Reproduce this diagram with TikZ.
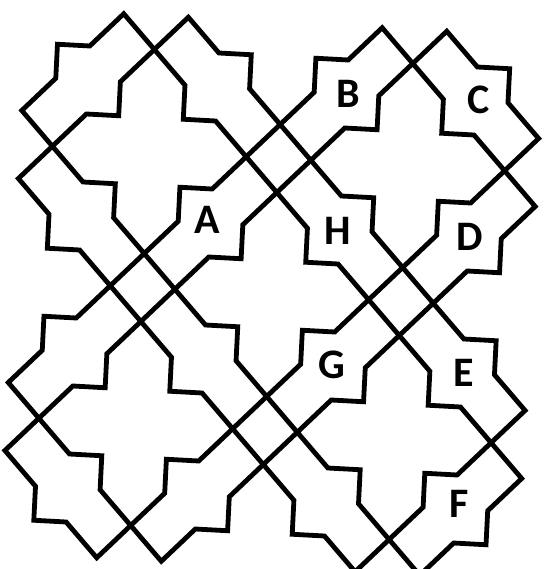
\documentclass[tikz,border=0pt]{standalone}
\usepackage{fontspec}
\setmainfont{Carlito}
\begin{document}
\begin{tikzpicture}[x={(32.3pt,-1.75pt)},y={(1.69pt,34pt)},line width=4.8pt,
  lbl/.style={font=\bfseries\fontsize{42}{42}\selectfont}]
  \useasboundingbox (-149.3pt,151.5pt) rectangle ++(544pt,-569pt);
  \coordinate (TL) at (0,0);
  \coordinate (TR) at (8,0);
  \coordinate (BL) at (0,-8);
  \coordinate (BR) at (8,-8);
  \foreach \c in {TL,TR,BL,BR}{
    \begin{scope}[shift={(\c)}]
      % star outline
      \draw (0,3) -- (1,4) -- (2,3) -- (3,3) -- (3,2) -- (4,1) -- (3,0) -- (4,-1)
        -- (3,-2) -- (3,-3) -- (2,-3) -- (1,-4) -- (0,-3) -- (-1,-4) -- (-2,-3)
        -- (-3,-3) -- (-3,-2) -- (-4,-1) -- (-3,0) -- (-4,1) -- (-3,2) -- (-3,3)
        -- (-2,3) -- (-1,4) -- cycle;
      % inner cross
      \draw (0,3) -- (1,2) -- (1,1) -- (2,1) -- (3,0) -- (2,-1) -- (1,-1) -- (1,-2)
        -- (0,-3) -- (-1,-2) -- (-1,-1) -- (-2,-1) -- (-3,0) -- (-2,1) -- (-1,1)
        -- (-1,2) -- cycle;
    \end{scope}
  }
  \node[lbl] (A) at (1.9,-1.9) {A};
  \node[lbl] (B) at (6.05,2) {B};
  \node[lbl] (C) at (10.1,2.05) {C};
  \node[lbl] (H) at (5.95,-2.03) {H};
  \node[lbl] (D) at (10.03,-2) {D};
  \node[lbl] (G) at (5.97,-5.97) {G};
  \node[lbl] (E) at (10.06,-6) {E};
  \node[lbl] (F) at (10.1,-9.85) {F};
\end{tikzpicture}
\end{document}
